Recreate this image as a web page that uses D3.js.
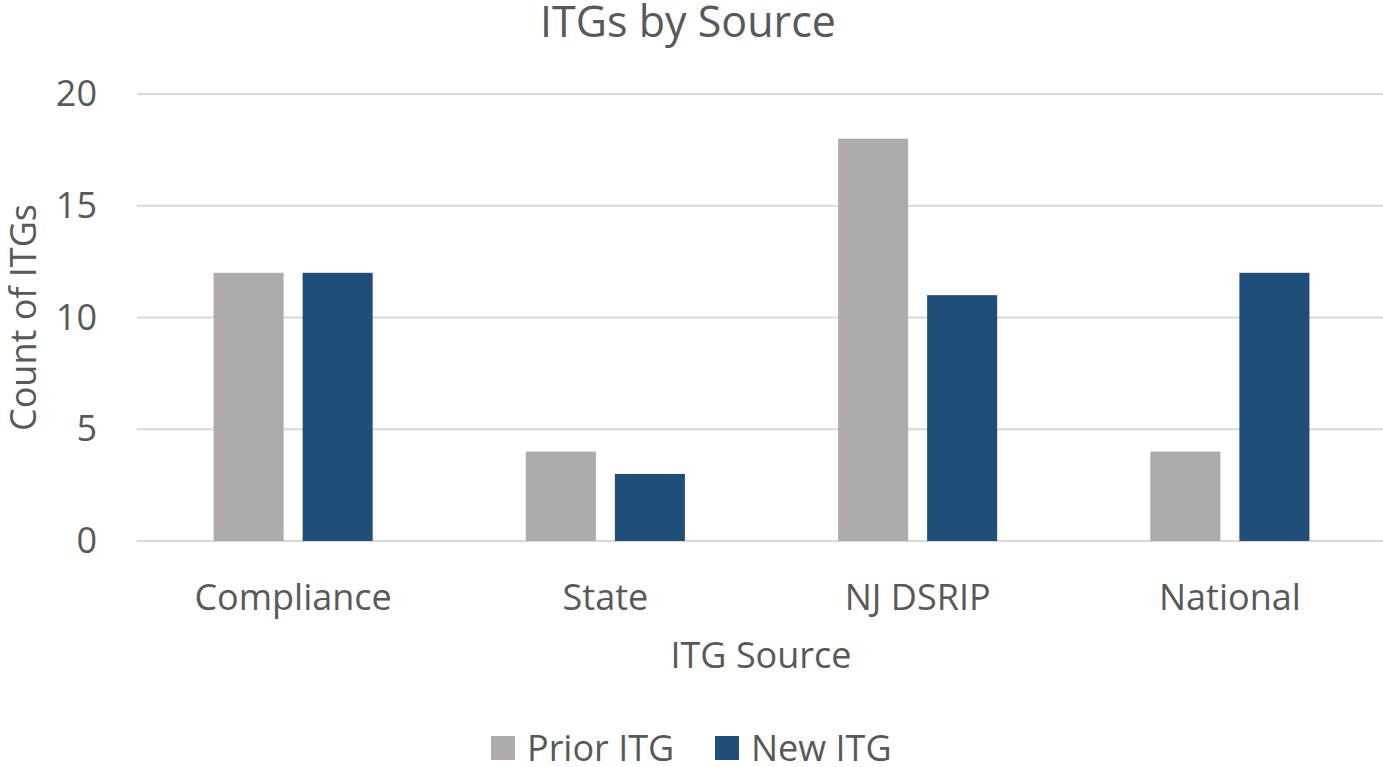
<!DOCTYPE html>
<html lang="en">
	<head>
		<meta charset="utf-8">
		<title>ITGs by Source</title>
		<script src="https://d3js.org/d3.v7.min.js"></script>
		<style type="text/css">
			body, html {
				margin: 0;
				padding: 0;
				background: #ffffff;
			}
			text {
				font-family: "Open Sans", sans-serif;
				fill: #595959;
			}
		</style>
	</head>
	<body>
		<div id="chart"></div>
		<script type="text/javascript">

		var categories = ["Compliance", "State", "NJ DSRIP", "National"]
		var seriesNames = ["Prior ITG", "New ITG"]
		var priorValues = [12, 4, 18, 4]
		var newValues = [12, 3, 11, 12]
		var yTicks = [0, 5, 10, 15, 20]
		var colors = ["#AFABAB", "#1F4E79"]

		var W = 1383, H = 767
		var margin = {top: 94, right: -3, bottom: 226, left: 137}
		var w = W - margin.left - margin.right
		var h = H - margin.top - margin.bottom

		var svg = d3.select("#chart").append("svg")
			.attr("width", W)
			.attr("height", H)

		var data = categories.map((c, i) => ({cat: c, values: [priorValues[i], newValues[i]]}))

		var x0 = d3.scaleBand()
			.domain(categories)
			.range([0, w])
			.padding(0)
		var x1 = d3.scaleBand()
			.domain(seriesNames)
			.range([0, x0.bandwidth()])
			.paddingInner(0.2135)
			.paddingOuter(0.86)
		var y = d3.scaleLinear()
			.domain([0, 20])
			.range([h, 0])

		var g = svg.append("g")
			.attr("transform", "translate(" + margin.left + "," + margin.top + ")")

		// gridlines
		g.append("g")
			.selectAll("line")
			.data(yTicks)
			.enter().append("line")
			.attr("x1", 0)
			.attr("x2", w)
			.attr("y1", d => y(d))
			.attr("y2", d => y(d))
			.attr("stroke", "#D9D9D9")
			.attr("stroke-width", 2)

		// y tick labels
		var yAxis = g.append("g")
			.call(d3.axisLeft(y).tickValues(yTicks).tickSize(0).tickPadding(40))
		yAxis.select(".domain").remove()
		yAxis.selectAll("text")
			.style("font-size", "36px")
			.attr("fill", "#595959")
			.style("font-family", "'Open Sans', sans-serif")

		// bars
		var groups = g.selectAll("g.cat")
			.data(data)
			.enter().append("g")
			.attr("class", "cat")
			.attr("transform", d => "translate(" + x0(d.cat) + ",0)")

		groups.selectAll("rect")
			.data(d => d.values.map((v, i) => ({name: seriesNames[i], value: v, i: i})))
			.enter().append("rect")
			.attr("x", d => x1(d.name))
			.attr("width", x1.bandwidth())
			.attr("y", d => y(d.value))
			.attr("height", d => h - y(d.value))
			.attr("fill", d => colors[d.i])

		// x tick labels
		var xAxis = g.append("g")
			.attr("transform", "translate(0," + h + ")")
			.call(d3.axisBottom(x0).tickSize(0).tickPadding(43))
		xAxis.select(".domain").remove()
		xAxis.selectAll("text")
			.style("font-size", "36px")
			.attr("fill", "#595959")
			.style("font-family", "'Open Sans', sans-serif")

		// title
		svg.append("text")
			.text("ITGs by Source")
			.attr("text-anchor", "middle")
			.attr("x", 688)
			.attr("y", 37)
			.style("font-size", "43px")

		// axis titles
		svg.append("text")
			.text("ITG Source")
			.attr("text-anchor", "middle")
			.attr("x", 761)
			.attr("y", 668)
			.style("font-size", "36px")

		svg.append("text")
			.text("Count of ITGs")
			.attr("text-anchor", "middle")
			.attr("transform", "translate(36," + (margin.top + h / 2) + ") rotate(-90)")
			.style("font-size", "36px")

		// legend
		var legendX = [491, 715]
		seriesNames.forEach((name, i) => {
			svg.append("rect")
				.attr("x", legendX[i])
				.attr("y", 736)
				.attr("width", 24)
				.attr("height", 24)
				.attr("fill", colors[i])
			svg.append("text")
				.text(name)
				.attr("x", legendX[i] + 36)
				.attr("y", 761)
				.style("font-size", "36px")
		})

		</script>
	</body>
</html>
